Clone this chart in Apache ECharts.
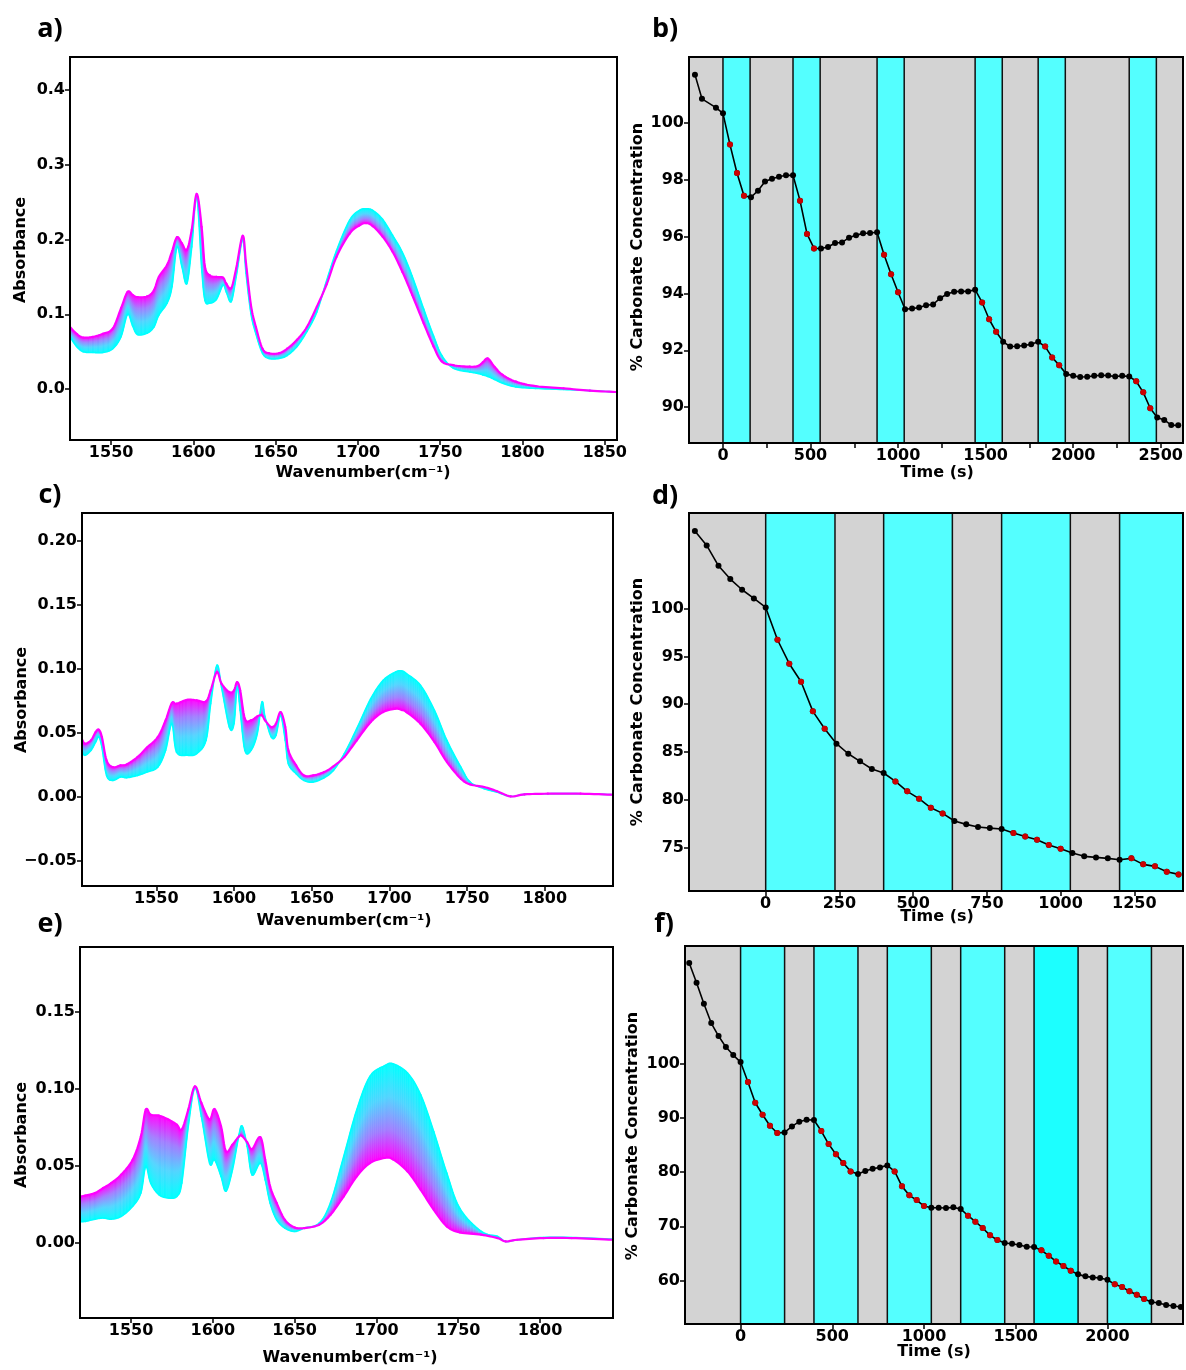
<!DOCTYPE html>
<html><head><meta charset="utf-8">
<script src="https://cdn.jsdelivr.net/npm/echarts@6/dist/echarts.min.js"></script>
<style>html,body{margin:0;padding:0;background:#fff}#c{width:1186px;height:1370px}</style>
</head><body><div id="c"></div>
<script>
// ---------- Panel a (spectra) ----------
const aWavenumber = [1525,1529,1533,1539,1545,1551,1556,1560,1563,1566,1572,1576,1579,1584,1587,1590,1593,1596,1599,1602,1605,1607,1610,1614,1618,1620,1623,1626,1630,1632,1635,1638,1642,1646,1652,1657,1663,1669,1675,1681,1687,1695,1701,1705,1709,1715,1721,1727,1733,1740,1746,1751,1758,1768,1773,1776,1779,1783,1788,1796,1808,1825,1841,1858];
const aFirst = [.070,.057,.050,.049,.049,.054,.070,.100,.085,.073,.075,.083,.099,.115,.137,.190,.164,.141,.190,.257,.163,.119,.115,.120,.139,.130,.117,.150,.200,.155,.101,.074,.048,.041,.041,.045,.057,.077,.103,.145,.185,.226,.239,.241,.239,.227,.206,.183,.151,.107,.071,.045,.028,.023,.021,.019,.017,.013,.008,.003,.001,-.0005,-.002,-.004];
const aLast = [.083,.074,.069,.070,.074,.081,.108,.130,.126,.123,.124,.132,.150,.166,.184,.203,.195,.186,.213,.261,.217,.164,.152,.150,.149,.141,.135,.161,.205,.168,.112,.083,.054,.048,.048,.054,.066,.083,.110,.140,.177,.208,.219,.222,.218,.204,.184,.157,.126,.088,.057,.037,.032,.030,.031,.036,.041,.030,.019,.010,.004,.001,-.002,-.004];
const aXTicks = [1550,1600,1650,1700,1750,1800,1850];
const aYTicks = [0,0.1,0.2,0.3,0.4];

// ---------- Panel c (spectra) ----------
const cWavenumber = [1502,1504,1508,1511,1513,1515,1518,1522,1527,1531,1538,1544,1551,1556,1560,1563,1570,1576,1582,1585,1589,1592,1597,1600,1602,1604,1607,1611,1615,1618,1620,1624,1627,1630,1633,1635,1640,1645,1651,1658,1664,1671,1679,1688,1696,1704,1708,1711,1720,1729,1737,1746,1752,1761,1769,1778,1787,1802,1823,1844];
const cFirst = [.0365,.0326,.0365,.0430,.0469,.0390,.0169,.0130,.0156,.0151,.0169,.0195,.0234,.0365,.0573,.0352,.0326,.0339,.0443,.0729,.1029,.0859,.0547,.0573,.0859,.0677,.0365,.0365,.0495,.0742,.0625,.0469,.0482,.0638,.0443,.0260,.0182,.0130,.0117,.0151,.0208,.0339,.0534,.0768,.0912,.0977,.0985,.0964,.0873,.0677,.0443,.0234,.0117,.0065,.0039,.0005,.0021,.0026,.0026,.0018];
const cLast = [.0456,.0417,.0443,.0508,.0526,.0469,.0287,.0234,.0247,.0255,.0313,.0386,.0469,.0599,.0734,.0729,.0760,.0755,.0747,.0833,.0977,.0885,.0820,.0833,.0898,.0833,.0612,.0599,.0630,.0638,.0599,.0547,.0573,.0664,.0547,.0365,.0247,.0169,.0169,.0195,.0240,.0313,.0443,.0586,.0664,.0690,.0680,.0664,.0573,.0430,.0274,.0143,.0099,.0078,.0047,.0005,.0021,.0026,.0026,.0018];
const cXTicks = [1550,1600,1650,1700,1750,1800];
const cYTicks = [-0.05,0,0.05,0.10,0.15,0.20];

// ---------- Panel e (spectra) ----------
const eWavenumber = [1518,1522,1528,1533,1538,1544,1551,1556,1559,1562,1567,1573,1578,1581,1585,1589,1593,1598,1601,1605,1608,1612,1616,1618,1621,1624,1629,1632,1635,1639,1644,1650,1656,1665,1672,1680,1688,1696,1705,1710,1719,1727,1735,1743,1751,1764,1774,1779,1786,1802,1819,1844];
const eFirst = [.0136,.0136,.0151,.0158,.0151,.0169,.0234,.0321,.0494,.0385,.0310,.0288,.0299,.0385,.0754,.1002,.0818,.0515,.0537,.0429,.0332,.0472,.0700,.0754,.0623,.0438,.0515,.0407,.0256,.0147,.0093,.0071,.0093,.0125,.0260,.0558,.0862,.1078,.1147,.1160,.1100,.0960,.0720,.0450,.0220,.0072,.0039,.0006,.0017,.0032,.0032,.0021];
const eLast = [.0295,.0304,.0321,.0353,.0386,.0440,.0537,.0688,.0862,.0829,.0823,.0797,.0764,.0732,.0862,.1013,.0905,.0797,.0866,.0754,.0591,.0634,.0688,.0690,.0650,.0606,.0684,.0537,.0364,.0256,.0147,.0097,.0093,.0115,.0180,.0299,.0429,.0515,.0548,.0540,.0461,.0342,.0212,.0104,.0065,.0050,.0028,.0006,.0017,.0028,.0028,.0017];
const eXTicks = [1550,1600,1650,1700,1750,1800];
const eYTicks = [0,0.05,0.10,0.15];

// ---------- Panel b (concentration) ----------
const bTime = [-160,-120,-40,0,40,80,120,160,200,240,280,320,360,400,440,480,520,560,600,640,680,720,760,800,840,880,920,960,1000,1040,1080,1120,1160,1200,1240,1280,1320,1360,1400,1440,1480,1520,1560,1600,1640,1680,1720,1760,1800,1840,1880,1920,1960,2000,2040,2080,2120,2160,2200,2240,2280,2320,2360,2400,2440,2480,2520,2560,2600];
const bValue = [101.69,100.84,100.53,100.33,99.23,98.23,97.43,97.38,97.61,97.93,98.03,98.10,98.15,98.15,97.26,96.09,95.58,95.58,95.63,95.77,95.79,95.96,96.04,96.11,96.12,96.15,95.36,94.67,94.04,93.44,93.47,93.50,93.58,93.61,93.83,93.98,94.06,94.07,94.07,94.13,93.68,93.09,92.65,92.30,92.13,92.14,92.17,92.21,92.30,92.13,91.75,91.47,91.17,91.10,91.06,91.07,91.10,91.12,91.11,91.08,91.10,91.08,90.91,90.52,89.96,89.64,89.55,89.37,89.36];
const bBands = [[0,155],[400,555],[880,1035],[1440,1595],[1800,1955],[2320,2475]];
const bXTicks = [0,250,500,750,1000,1250,1500,1750,2000,2250,2500];
const bXLabels = [0,500,1000,1500,2000,2500];
const bYTicks = [90,92,94,96,98,100];

// ---------- Panel d ----------
const dTime = [-240,-200,-160,-120,-80,-40,0,40,80,120,160,200,240,280,320,360,400,440,480,520,560,600,640,680,720,760,800,840,880,920,960,1000,1040,1080,1120,1160,1200,1240,1280,1320,1360,1400];
const dValue = [108.14,106.63,104.50,103.11,101.99,101.08,100.14,96.75,94.24,92.35,89.25,87.43,85.86,84.81,84.01,83.21,82.79,81.91,80.87,80.10,79.15,78.56,77.76,77.41,77.13,77.02,76.92,76.50,76.15,75.80,75.24,74.86,74.41,74.06,73.95,73.85,73.71,73.85,73.22,73.01,72.45,72.17];
const D_XMAX = 1415;
const dBands = [[0,235],[400,633],[800,1033],[1200,D_XMAX]];
const dXTicks = [0,250,500,750,1000,1250];
const dYTicks = [75,80,85,90,95,100];

// ---------- Panel f ----------
const fTime = [-280,-240,-200,-160,-120,-80,-40,0,40,80,120,160,200,240,280,320,360,400,440,480,520,560,600,640,680,720,760,800,840,880,920,960,1000,1040,1080,1120,1160,1200,1240,1280,1320,1360,1400,1440,1480,1520,1560,1600,1640,1680,1720,1760,1800,1840,1880,1920,1960,2000,2040,2080,2120,2160,2200,2240,2280,2320,2360,2400];
const fValue = [118.67,115.04,111.16,107.58,105.18,103.14,101.66,100.37,96.67,92.85,90.63,88.60,87.24,87.36,88.47,89.34,89.71,89.65,87.61,85.21,83.30,81.69,80.15,79.66,80.22,80.65,80.89,81.26,80.15,77.38,75.72,74.85,73.74,73.44,73.44,73.37,73.50,73.19,71.96,70.85,69.68,68.32,67.46,66.90,66.78,66.53,66.22,66.16,65.55,64.56,63.51,62.65,61.79,61.11,60.74,60.55,60.43,60.12,59.26,58.77,57.97,57.35,56.55,55.99,55.81,55.44,55.25,55.07];
const fBands = [[0,240],[400,640],[800,1040],[1200,1440],[1600,1840],[2000,2240]];
const fStrongBand = 4;
const fXTicks = [0,500,1000,1500,2000];
const fYTicks = [60,70,80,90,100];

// ---------- layout ----------
const FONT = '"DejaVu Sans", sans-serif';
const grids = [
  {left:70, top:57, width:547, height:383},   // a
  {left:689, top:57, width:494, height:386},  // b
  {left:82, top:513, width:531, height:373},  // c
  {left:689, top:513, width:494, height:378}, // d
  {left:80, top:947, width:533, height:371},  // e
  {left:685, top:946, width:498, height:378}  // f
];
const spectraIdx = [0,2,4];
const CYAN = '#00ffff', MAG = '#ff00ff';
const GRAD_STOPS = [{offset:0,color:'#00ffff'},{offset:0.35,color:'#4fd4ff'},{offset:0.7,color:'#a07cff'},{offset:1,color:'#ff00ff'}];
const GRAY = '#d3d3d3', BAND = '#54ffff', BAND2 = '#1cffff';

function axis(gi, min, max, ticks, labels, fmt) {
  return {
    type:'value', gridIndex:gi, min:min, max:max, scale:true,
    axisLine:{show:false, onZero:false}, splitLine:{show:false},
    axisTick:{show:true, inside:false, length:5, customValues:ticks, lineStyle:{color:'#000', width:1.5}},
    axisLabel:{show:true, customValues:labels||ticks, formatter:fmt, color:'#000', fontWeight:'bold',
               fontSize:16, fontFamily:FONT, margin:5}
  };
}
const intFmt = v => String(Math.round(v));
const f1 = v => v.toFixed(1);
const f2 = v => (v < -1e-9 ? '\u2212' : '') + Math.abs(v).toFixed(2);

const xAxes = [
  axis(0,1525,1857.5,aXTicks,null,intFmt),
  axis(1,-194,2625,bXTicks,bXLabels,intFmt),
  axis(2,1502.2,1843.9,cXTicks,null,intFmt),
  axis(3,-260,D_XMAX,dXTicks,null,intFmt),
  axis(4,1518.8,1844.6,eXTicks,null,intFmt),
  axis(5,-303,2412,fXTicks,null,intFmt)
];
const yAxes = [
  axis(0,-0.068,0.444,aYTicks,null,f1),
  axis(1,88.74,102.31,bYTicks,null,intFmt),
  axis(2,-0.0695,0.2219,cYTicks,null,f2),
  axis(3,70.43,110.03,dYTicks,null,intFmt),
  axis(4,-0.0491,0.1918,eYTicks,null,f2),
  axis(5,51.93,121.83,fYTicks,null,intFmt)
];

// Smooth (Catmull-Rom, pixel space) rendering of the first (cyan) and last (magenta)
// spectra, with the band between them shaded cyan -> magenta.
const K = 8;
function crPoint(P0, P1, P2, P3, t) {
  const t2 = t*t, t3 = t2*t;
  const f = k => 0.5*((2*P1[k]) + (-P0[k]+P2[k])*t + (2*P0[k]-5*P1[k]+4*P2[k]-P3[k])*t2 + (-P0[k]+3*P1[k]-3*P2[k]+P3[k])*t3);
  return [f(0), f(1)];
}
function segPoints(api, wn, vals, i) {
  const n = wn.length, c = j => Math.max(0, Math.min(n-1, j));
  const P = [i-1, i, i+1, i+2].map(j => api.coord([wn[c(j)], vals[c(j)]]));
  const pts = [];
  for (let s = 0; s <= K; s++) pts.push(crPoint(P[0], P[1], P[2], P[3], s / K));
  return pts;
}
function segData(wn, first, last) {
  const d = [];
  for (let i = 0; i < wn.length - 1; i++) d.push([wn[i], wn[i+1], first[i], last[i]]);
  return d;
}
function spectrum(gi, wn, first, last) {
  const data = segData(wn, first, last);
  const base = {type:'custom', xAxisIndex:gi, yAxisIndex:gi, clip:true, silent:true,
    data:data, encode:{x:[0,1], y:[2,3]}};
  const fill = Object.assign({}, base, {z:2, renderItem:function(params, api){
    const i = params.dataIndex;
    const cp = segPoints(api, wn, first, i), mp = segPoints(api, wn, last, i);
    const children = [];
    for (let s = 0; s < K; s++) {
      const cm = [(cp[s][0]+cp[s+1][0])/2, (cp[s][1]+cp[s+1][1])/2];
      const mm = [(mp[s][0]+mp[s+1][0])/2, (mp[s][1]+mp[s+1][1])/2];
      let yc = cm[1], ym = mm[1];
      if (Math.abs(ym - yc) < 1) ym = yc + (ym >= yc ? 1 : -1);
      const g = new echarts.graphic.LinearGradient(cm[0], yc, cm[0], ym, GRAD_STOPS, true);
      children.push({type:'polygon', shape:{points:[cp[s], cp[s+1], mp[s+1], mp[s]]}, style:{fill:g, stroke:g, lineWidth:0.6}});
    }
    return {type:'group', children:children};
  }});
  const mkLine = (vals, color, width, z) => Object.assign({}, base, {z:z, renderItem:function(params, api){
    return {type:'polyline', shape:{points:segPoints(api, wn, vals, params.dataIndex)},
      style:{fill:null, stroke:color, lineWidth:width, lineCap:'round', lineJoin:'round'}};
  }});
  return [fill, mkLine(first, CYAN, 1.6, 3), mkLine(last, MAG, 2.2, 4)];
}

function inBand(t, bands) { return bands.some(b => t > b[0] && t < b[1]); }
function timeSeries(gi, time, vals, bands, strongIdx) {
  const area = {type:'line', xAxisIndex:gi, yAxisIndex:gi, data:[], silent:true, z:1,
    markArea:{silent:true, itemStyle:{color:BAND, borderColor:'#111', borderWidth:1.5},
      data:bands.map((b,k)=>[{xAxis:b[0], itemStyle:(k===strongIdx?{color:BAND2}:undefined)},{xAxis:b[1]}])}};
  const line = {type:'line', xAxisIndex:gi, yAxisIndex:gi, data:time.map((t,i)=>[t, vals[i]]),
    symbol:'circle', symbolSize:6, showSymbol:true, silent:true, z:3,
    itemStyle:{color:'#000'}, lineStyle:{color:'#000', width:1.6}};
  const red = {type:'scatter', xAxisIndex:gi, yAxisIndex:gi, silent:true, z:4, symbolSize:6,
    itemStyle:{color:'#ff0000'},
    data:time.map((t,i)=>[t, vals[i]]).filter(p => inBand(p[0], bands))};
  return [area, line, red];
}

const series = [
  ...spectrum(0, aWavenumber, aFirst, aLast),
  ...spectrum(2, cWavenumber, cFirst, cLast),
  ...spectrum(4, eWavenumber, eFirst, eLast),
  ...timeSeries(1, bTime, bValue, bBands, -1),
  ...timeSeries(3, dTime, dValue, dBands, -1),
  ...timeSeries(5, fTime, fValue, fBands, fStrongBand)
];

function txt(x, y, text, size, rot, fam) {
  return {type:'text', x:x, y:y, rotation:rot||0, z:200, silent:true,
    style:{text:text, x:0, y:0, align:'center', verticalAlign:'middle', fill:'#000',
      font:'bold ' + size + 'px ' + (fam || FONT)}};
}
const graphics = grids.map(g => ({type:'rect', z:150, silent:true,
  shape:{x:g.left, y:g.top, width:g.width, height:g.height},
  style:{fill:null, stroke:'#000', lineWidth:2}}));
const LETTER = '"Open Sans", sans-serif';
graphics.push(
  txt(50, 29, 'a)', 27, 0, LETTER), txt(665, 29, 'b)', 27, 0, LETTER),
  txt(50, 495, 'c)', 27, 0, LETTER), txt(665, 496, 'd)', 27, 0, LETTER),
  txt(50, 924, 'e)', 27, 0, LETTER), txt(664, 924, 'f)', 27, 0, LETTER),
  txt(21, 250, 'Absorbance', 16, Math.PI/2), txt(21.5, 700, 'Absorbance', 16, Math.PI/2), txt(21.5, 1135, 'Absorbance', 16, Math.PI/2),
  txt(638, 247, '% Carbonate Concentration', 16, Math.PI/2), txt(638, 702, '% Carbonate Concentration', 16, Math.PI/2), txt(633, 1136, '% Carbonate Concentration', 16, Math.PI/2),
  txt(363, 473, 'Wavenumber(cm\u207B\u00B9)', 16), txt(344, 921, 'Wavenumber(cm\u207B\u00B9)', 16), txt(350, 1358, 'Wavenumber(cm\u207B\u00B9)', 16),
  txt(937, 473, 'Time (s)', 16), txt(937, 917, 'Time (s)', 16), txt(934, 1352, 'Time (s)', 16)
);

const grid = grids.map((g,i) => Object.assign({}, g, spectraIdx.includes(i)
  ? {show:false, containLabel:false}
  : {show:true, backgroundColor:GRAY, borderWidth:0, containLabel:false}));

const chart = echarts.init(document.getElementById('c'), null, {renderer:'canvas'});
chart.setOption({
  animation:false, backgroundColor:'#fff',
  grid:grid, xAxis:xAxes, yAxis:yAxes, series:series, graphic:graphics
});
</script></body></html>
